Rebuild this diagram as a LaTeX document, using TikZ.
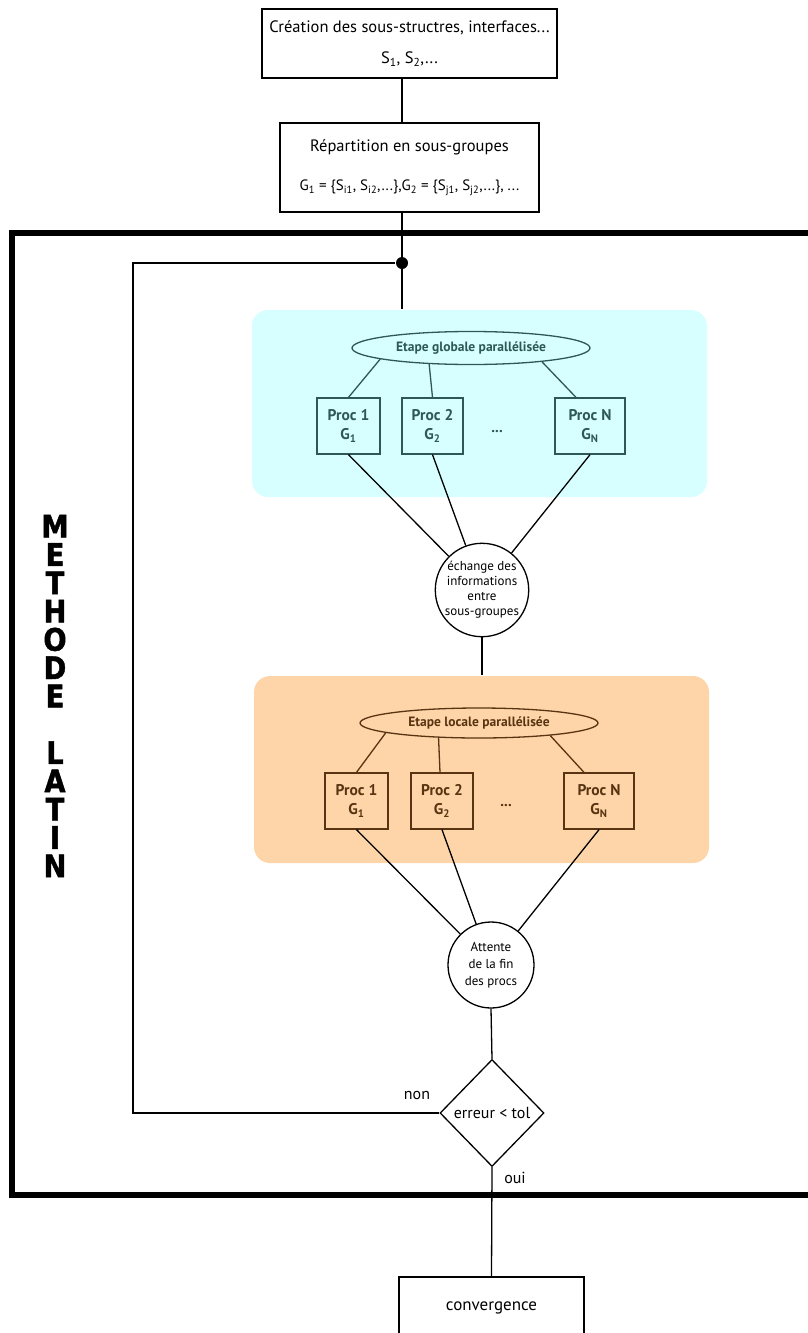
\documentclass[tikz,border=0pt]{standalone}
\usepackage{fontspec}
\setmainfont{PT Sans}
\newfontfamily\heavyfont[FakeStretch=0.88, FakeBold=1.5]{DejaVu Sans}
\usetikzlibrary{positioning, shapes.geometric}

\definecolor{globfill}{RGB}{215,255,255}
\definecolor{globline}{RGB}{45,88,86}
\definecolor{locfill}{RGB}{254,213,168}
\definecolor{locline}{RGB}{88,52,18}

\begin{document}
\begin{tikzpicture}[x=1pt, y=-1pt, line width=1.3pt,
  box/.style={draw, rectangle, align=center, inner sep=0pt},
  zone/.style={rectangle, rounded corners=16pt, inner sep=0pt, minimum width=455pt, minimum height=187pt},
  etape/.style={draw, ellipse, inner sep=0pt, minimum width=238pt, font=\bfseries\fontsize{13.5}{15}\selectfont},
  proc/.style={draw, rectangle, align=center, inner sep=0pt, minimum height=56pt, font=\bfseries\fontsize{15.5}{19}\selectfont},
  rond/.style={draw, circle, align=center, inner sep=0pt},
  label/.style={inner sep=0pt, font=\fontsize{16}{18}\selectfont}]

\useasboundingbox (0,0) rectangle (807,1333);

% Methode frame
\draw[line width=6pt] (12,233) rectangle (840,1195);
\node (titre) at (55,696) [align=center, inner sep=0pt, font=\heavyfont\bfseries\fontsize{31}{28.3}\selectfont] {M\\E\\T\\H\\O\\D\\E\\[28.3pt]L\\A\\T\\I\\N};

% Preparation
\node (crea) at (409.5,43.5) [box, minimum width=295pt, minimum height=69pt, font=\fontsize{16.5}{31}\selectfont] {Création des sous-structres, interfaces...\\S\textsubscript{1}, S\textsubscript{2},...};
\node (rep) at (409.5,167.5) [box, minimum width=259pt, minimum height=89pt, font=\fontsize{16.5}{39}\selectfont] {Répartition en sous-groupes\\{\fontsize{15}{17}\selectfont G\textsubscript{1} = \{S\textsubscript{i1}, S\textsubscript{i2},...\},G\textsubscript{2} = \{S\textsubscript{j1}, S\textsubscript{j2},...\}, ...}};
\node (junc) at (402,263) [circle, fill, inner sep=0pt, minimum size=12pt] {};

% Global step
\node (gzone) at (479.5,403.5) [zone, fill=globfill] {};
\node (eg) at (471,348) [etape, minimum height=33pt, draw=globline, text=globline, fill=globfill] {Etape globale parallélisée};
\node (p1) at (348.5,426) [proc, minimum width=63pt, draw=globline, text=globline] {Proc 1\\G\textsubscript{1}};
\node (p2) at (432.5,426) [proc, minimum width=61pt, draw=globline, text=globline] {Proc 2\\G\textsubscript{2}};
\node (pN) at (590,426) [proc, minimum width=70pt, draw=globline, text=globline] {Proc N\\G\textsubscript{N}};
\node (dots1) at (497,432) [label, text=globline, font=\bfseries\fontsize{15}{16}\selectfont] {...};
\draw[globline] (eg.187.5) -- (p1.north);
\draw[globline] (eg.201.8) -- (p2.north);
\draw[globline] (eg.349.2) -- ([xshift=-14pt]pN.north);

\node (ex) at (482,590) [rond, minimum size=92pt, font=\fontsize{13}{15}\selectfont] {échange des\\informations\\entre\\sous-groupes};
\draw (p1.south) -- (ex);
\draw (p2.south) -- (ex);
\draw (pN.south) -- (ex);

% Local step
\node (lzone) at (481.5,769.5) [zone, fill=locfill] {};
\node (el) at (479,723) [etape, minimum height=30pt, draw=locline, text=locline, fill=locfill] {Etape locale parallélisée};
\node (q1) at (356.5,801) [proc, minimum width=63pt, draw=locline, text=locline] {Proc 1\\G\textsubscript{1}};
\node (q2) at (442,801) [proc, minimum width=62pt, draw=locline, text=locline] {Proc 2\\G\textsubscript{2}};
\node (qN) at (599,801) [proc, minimum width=70pt, draw=locline, text=locline] {Proc N\\G\textsubscript{N}};
\node (dots2) at (506,806) [label, text=locline, font=\bfseries\fontsize{15}{16}\selectfont] {...};
\draw[locline] (el.186.9) -- (q1.north);
\draw[locline] (el.200) -- ([xshift=-2pt]q2.north);
\draw[locline] (el.350.8) -- ([xshift=-15pt]qN.north);

\node (att) at (491,965) [rond, minimum size=86pt, font=\fontsize{13}{17}\selectfont] {Attente\\de la fin\\des procs};
\draw (q1.south) -- (att);
\draw (q2.south) -- (att);
\draw (qN.south) -- (att);

% Test and loop
\node (test) at (492,1113) [draw, diamond, inner sep=0pt, minimum width=104pt, minimum height=107pt, font=\fontsize{16}{18}\selectfont] {erreur < tol};
\node (non) at (417,1095) [label] {non};
\node (oui) at (515,1178) [label] {oui};
\node (conv) at (491.5,1308) [box, minimum width=185pt, minimum height=62pt, font=\fontsize{17}{19}\selectfont] {convergence};
\coordinate (retour) at (133,1113);

\draw (crea.south -| junc) -- (rep.north -| junc);
\draw (rep.south -| junc) -- (gzone.north -| junc);
\draw (ex.south) -- (ex.south |- lzone.north);
\draw (att.south) -- (test.north);
\draw (test.west) -- (retour) |- (junc);
\draw (test.south) -- (conv.north);
\end{tikzpicture}
\end{document}
